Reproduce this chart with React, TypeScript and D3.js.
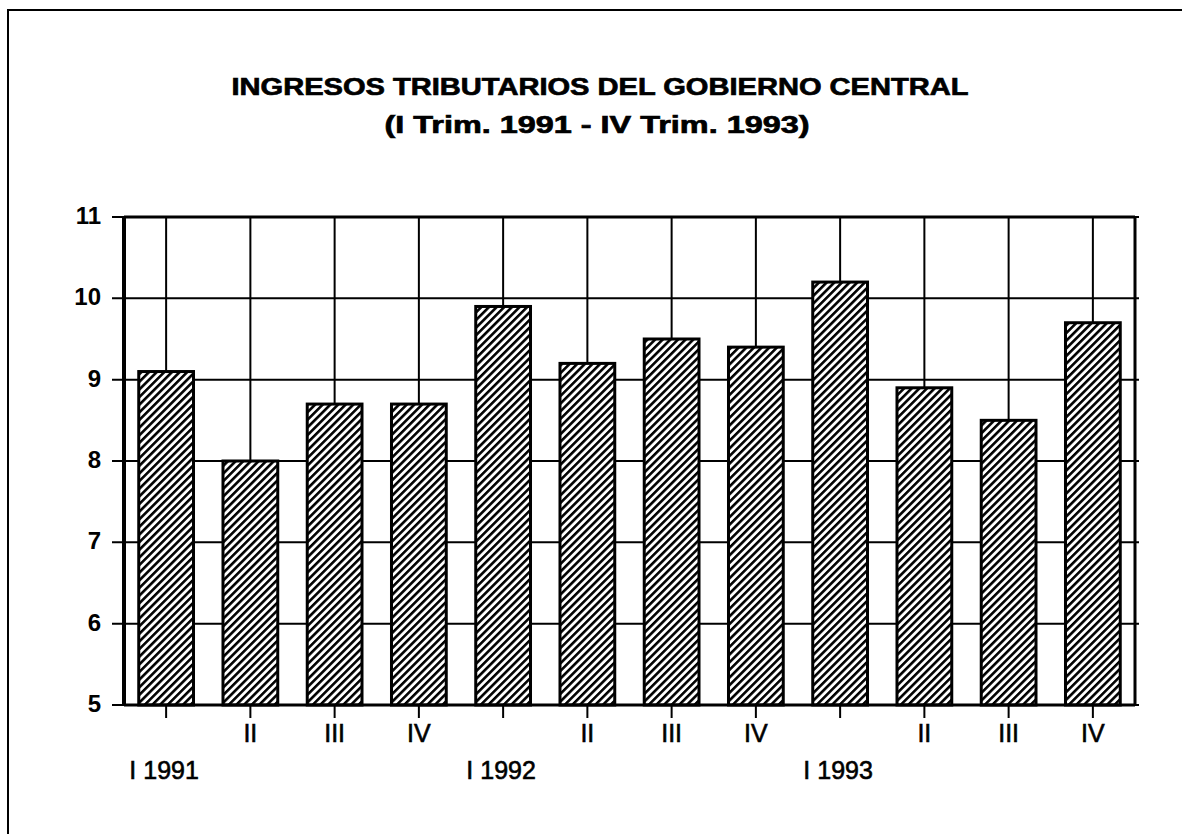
import React from 'react';
import * as d3 from 'd3';

const quarters = ['I', 'II', 'III', 'IV', 'I', 'II', 'III', 'IV', 'I', 'II', 'III', 'IV'];
const years = ['1991', '', '', '', '1992', '', '', '', '1993', '', '', ''];
const values = [9.1, 8.0, 8.7, 8.7, 9.9, 9.2, 9.5, 9.4, 10.2, 8.9, 8.5, 9.7];
const yTicks = [5, 6, 7, 8, 9, 10, 11];

const title = 'INGRESOS TRIBUTARIOS DEL GOBIERNO CENTRAL';
const subtitle = '(I Trim. 1991 - IV Trim. 1993)';

const W = 1182;
const H = 834;
const margin = { left: 124, right: 1135, top: 217, bottom: 705 };
const font = '"Liberation Sans", Arial, Helvetica, sans-serif';

export default function App() {
  const ids = d3.range(values.length);
  const x = d3.scaleBand<number>()
    .domain(ids)
    .range([margin.left, margin.right])
    .paddingInner(0.35)
    .paddingOuter(0.175);
  const y = d3.scaleLinear().domain([5, 11]).range([margin.bottom, margin.top]);
  const cx = (i: number) => (x(i) as number) + x.bandwidth() / 2;

  return (
    <svg width={W} height={H} style={{ position: 'absolute', left: 0, top: 0, background: '#fff' }}>
      <defs>
        <pattern id="hatch" patternUnits="userSpaceOnUse" width="5.4" height="5.4" patternTransform="rotate(45)">
          <rect width="5.4" height="5.4" fill="#fff" />
          <line x1="1.3" y1="0" x2="1.3" y2="5.4" stroke="#000" strokeWidth="2.6" />
        </pattern>
      </defs>

      {/* frame */}
      <path d={`M8,${H + 5} L8,10 L${W + 5},10`} fill="none" stroke="#000" strokeWidth={2} />

      <text x={600} y={95} textAnchor="middle" fontFamily={font} fontWeight="bold" fontSize={24}
        stroke="#000" strokeWidth={0.7} textLength={737} lengthAdjust="spacingAndGlyphs">{title}</text>
      <text x={597} y={133} textAnchor="middle" fontFamily={font} fontWeight="bold" fontSize={24}
        stroke="#000" strokeWidth={0.7} textLength={425} lengthAdjust="spacingAndGlyphs">{subtitle}</text>

      {/* grid */}
      {yTicks.map(t => (
        <line key={'h' + t} x1={margin.left - 12} x2={margin.right + 4} y1={y(t)} y2={y(t)} stroke="#000" strokeWidth={2} />
      ))}
      {ids.map(i => (
        <line key={'v' + i} x1={cx(i)} x2={cx(i)} y1={margin.top} y2={margin.bottom} stroke="#000" strokeWidth={2} />
      ))}

      {/* bars */}
      {values.map((v, i) => (
        <rect key={'b' + i} x={x(i)} y={y(v)} width={x.bandwidth()} height={y(5) - y(v)}
          fill="url(#hatch)" stroke="#000" strokeWidth={3} />
      ))}

      {/* axes */}
      <line x1={margin.left} x2={margin.left} y1={margin.top - 1} y2={margin.bottom + 1} stroke="#000" strokeWidth={4} />
      <line x1={margin.right} x2={margin.right} y1={margin.top - 1} y2={margin.bottom + 1} stroke="#000" strokeWidth={3} />
      <line x1={margin.left} x2={margin.right} y1={margin.top} y2={margin.top} stroke="#000" strokeWidth={3} />
      <line x1={margin.left} x2={margin.right} y1={margin.bottom} y2={margin.bottom} stroke="#000" strokeWidth={3} />

      {yTicks.map(t => (
        <text key={'yl' + t} x={101} y={y(t) + 7} textAnchor="end" fontFamily={font} fontWeight="bold" fontSize={24}>{t}</text>
      ))}

      {ids.map(i => (
        <g key={'xt' + i}>
          <line x1={cx(i)} x2={cx(i)} y1={margin.bottom} y2={margin.bottom + 13} stroke="#000" strokeWidth={2} />
          {years[i] === '' ? (
            <text x={cx(i)} y={742} textAnchor="middle" fontFamily={font} fontSize={25}
              stroke="#000" strokeWidth={0.6}>{quarters[i]}</text>
          ) : (
            <text x={cx(i) - 2} y={779} textAnchor="middle" fontFamily={font} fontSize={25}
              stroke="#000" strokeWidth={0.6}>{quarters[i] + ' ' + years[i]}</text>
          )}
        </g>
      ))}
    </svg>
  );
}
